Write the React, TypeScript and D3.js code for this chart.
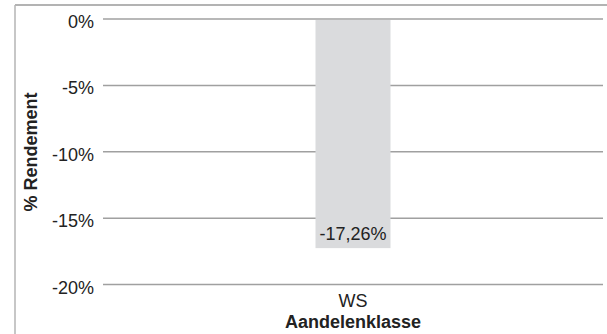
import React from "react";
import * as d3 from "d3";

const categories = ["WS"];
const values = [-17.26];
const yTicks = [0, -5, -10, -15, -20];
const yTickLabels = ["0%", "-5%", "-10%", "-15%", "-20%"];
const valueLabels = ["-17,26%"];
const yTitle = "% Rendement";
const xTitle = "Aandelenklasse";

export default function App() {
  const W = 607, H = 334;
  const left = 103, right = 603, top = 19, bottom = 284.5;
  const y = d3.scaleLinear().domain([0, -20]).range([top, bottom]);
  const x = d3.scaleBand().domain(categories).range([left, right]).paddingInner(0.85).paddingOuter(0.425);
  const font = "'Liberation Sans', Arial, Helvetica, sans-serif";
  const fs = 18;
  return (
    <svg width={W} height={H} style={{ position: "absolute", left: 0, top: 0 }} fontFamily={font}>
      <rect width={W} height={H} fill="#fff" />
      <line x1={15} x2={W} y1={5} y2={5} stroke="#9a9a9a" strokeWidth={1.5} />
      <line x1={15} x2={15} y1={5} y2={H} stroke="#b5b5b5" strokeWidth={1.5} />
      {yTicks.map((t, i) => (
        <g key={t}>
          <line x1={left} x2={right} y1={y(t)} y2={y(t)} stroke="#a0a0a0" strokeWidth={1.5} />
          <text x={94} y={y(t) + 9} textAnchor="end" fontSize={fs} fill="#222">{yTickLabels[i]}</text>
        </g>
      ))}
      {categories.map((c, i) => (
        <g key={c}>
          <rect x={x(c)} y={y(0) + 1} width={x.bandwidth()} height={y(values[i]) - y(0) - 1} fill="#dadbdd" />
          <text x={x(c)! + x.bandwidth() / 2} y={y(values[i]) - 8} textAnchor="middle" fontSize={fs} fill="#222">{valueLabels[i]}</text>
          <text x={x(c)! + x.bandwidth() / 2} y={307} textAnchor="middle" fontSize={fs} fill="#222">{c}</text>
        </g>
      ))}
      <text x={(left + right) / 2} y={328} textAnchor="middle" fontSize={fs} fontWeight="bold" fill="#222">{xTitle}</text>
      <text transform={`translate(37,152) rotate(-90)`} textAnchor="middle" fontSize={fs} fontWeight="bold" fill="#222">{yTitle}</text>
    </svg>
  );
}
